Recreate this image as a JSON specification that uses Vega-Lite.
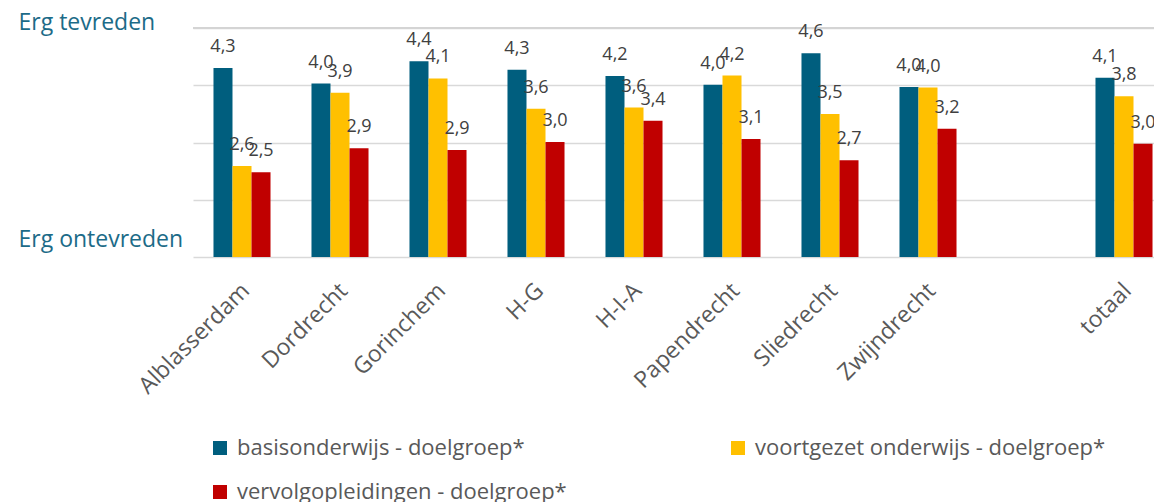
{
  "$schema": "https://vega.github.io/schema/vega-lite/v6.json",
  "autosize": {"type": "none"},
  "width": 961,
  "height": 229,
  "padding": {"left": 193, "top": 28, "right": 0, "bottom": 245},
  "background": "white",
  "config": {
    "locale": {"number": {"decimal": ",", "thousands": ".", "grouping": [3], "currency": ["€", ""]}},
    "view": {"stroke": null},
    "font": "Open Sans"
  },
  "data": {
    "values": [
      {"regio": "Alblasserdam", "groep": "basisonderwijs - doelgroep*", "waarde": 4.30},
      {"regio": "Alblasserdam", "groep": "voortgezet onderwijs - doelgroep*", "waarde": 2.59},
      {"regio": "Alblasserdam", "groep": "vervolgopleidingen - doelgroep*", "waarde": 2.48},
      {"regio": "Dordrecht", "groep": "basisonderwijs - doelgroep*", "waarde": 4.03},
      {"regio": "Dordrecht", "groep": "voortgezet onderwijs - doelgroep*", "waarde": 3.87},
      {"regio": "Dordrecht", "groep": "vervolgopleidingen - doelgroep*", "waarde": 2.90},
      {"regio": "Gorinchem", "groep": "basisonderwijs - doelgroep*", "waarde": 4.42},
      {"regio": "Gorinchem", "groep": "voortgezet onderwijs - doelgroep*", "waarde": 4.12},
      {"regio": "Gorinchem", "groep": "vervolgopleidingen - doelgroep*", "waarde": 2.87},
      {"regio": "H-G", "groep": "basisonderwijs - doelgroep*", "waarde": 4.27},
      {"regio": "H-G", "groep": "voortgezet onderwijs - doelgroep*", "waarde": 3.59},
      {"regio": "H-G", "groep": "vervolgopleidingen - doelgroep*", "waarde": 3.01},
      {"regio": "H-I-A", "groep": "basisonderwijs - doelgroep*", "waarde": 4.16},
      {"regio": "H-I-A", "groep": "voortgezet onderwijs - doelgroep*", "waarde": 3.61},
      {"regio": "H-I-A", "groep": "vervolgopleidingen - doelgroep*", "waarde": 3.38},
      {"regio": "Papendrecht", "groep": "basisonderwijs - doelgroep*", "waarde": 4.01},
      {"regio": "Papendrecht", "groep": "voortgezet onderwijs - doelgroep*", "waarde": 4.17},
      {"regio": "Papendrecht", "groep": "vervolgopleidingen - doelgroep*", "waarde": 3.06},
      {"regio": "Sliedrecht", "groep": "basisonderwijs - doelgroep*", "waarde": 4.56},
      {"regio": "Sliedrecht", "groep": "voortgezet onderwijs - doelgroep*", "waarde": 3.50},
      {"regio": "Sliedrecht", "groep": "vervolgopleidingen - doelgroep*", "waarde": 2.69},
      {"regio": "Zwijndrecht", "groep": "basisonderwijs - doelgroep*", "waarde": 3.97},
      {"regio": "Zwijndrecht", "groep": "voortgezet onderwijs - doelgroep*", "waarde": 3.96},
      {"regio": "Zwijndrecht", "groep": "vervolgopleidingen - doelgroep*", "waarde": 3.24},
      {"regio": "totaal", "groep": "basisonderwijs - doelgroep*", "waarde": 4.13},
      {"regio": "totaal", "groep": "voortgezet onderwijs - doelgroep*", "waarde": 3.81},
      {"regio": "totaal", "groep": "vervolgopleidingen - doelgroep*", "waarde": 2.98}
    ]
  },
  "layer": [
    {
      "mark": {"type": "rule", "color": "#d4d4d4", "strokeWidth": 2},
      "encoding": {
        "y": {"datum": 5, "type": "quantitative"}
      }
    },
    {
      "mark": {"type": "bar"},
      "encoding": {
        "x": {
          "field": "regio",
          "type": "nominal",
          "sort": null,
          "scale": {
            "domain": ["Alblasserdam", "Dordrecht", "Gorinchem", "H-G", "H-I-A", "Papendrecht", "Sliedrecht", "Zwijndrecht", " ", "totaal"],
            "range": [0, 980],
            "paddingInner": 0.418,
            "paddingOuter": 0.209
          },
          "axis": {
            "title": null,
            "domain": false,
            "ticks": false,
            "grid": false,
            "labelAngle": -45,
            "labelFontSize": 23,
            "labelColor": "#595959",
            "labelPadding": 22,
            "labelOffset": -4,
            "labelLimit": 300
          }
        },
        "xOffset": {
          "field": "groep",
          "type": "nominal",
          "sort": null,
          "scale": {
            "domain": ["basisonderwijs - doelgroep*", "voortgezet onderwijs - doelgroep*", "vervolgopleidingen - doelgroep*"],
            "paddingInner": 0,
            "paddingOuter": 0
          }
        },
        "y": {
          "field": "waarde",
          "type": "quantitative",
          "scale": {"domain": [1, 5], "nice": false, "zero": false},
          "axis": {
            "title": null,
            "values": [1, 2, 3, 4, 5],
            "grid": true,
            "gridColor": "#d9d9d9",
            "gridWidth": 1.5,
            "domain": false,
            "ticks": false,
            "labelExpr": "datum.value == 5 ? 'Erg tevreden' : datum.value == 1 ? 'Erg ontevreden' : ''",
            "labelAlign": "left",
            "labelPadding": 175,
            "labelFontSize": 23,
            "labelColor": "#1c6b88",
            "labelBaseline": "alphabetic",
            "labelOffset": {"condition": {"test": "datum.value == 1", "value": -11}, "value": 1},
            "labelLimit": 300,
            "labelBound": false,
            "labelOverlap": false
          }
        },
        "y2": {"datum": 1},
        "color": {
          "field": "groep",
          "type": "nominal",
          "sort": null,
          "scale": {
            "domain": ["basisonderwijs - doelgroep*", "voortgezet onderwijs - doelgroep*", "vervolgopleidingen - doelgroep*"],
            "range": ["#005e7e", "#ffc000", "#c00000"]
          },
          "legend": {
            "title": null,
            "orient": "none",
            "legendX": 16,
            "legendY": 409,
            "direction": "horizontal",
            "values": ["basisonderwijs - doelgroep*", "voortgezet onderwijs - doelgroep*", "vervolgopleidingen - doelgroep*"],
            "columns": 2,
            "columnPadding": 160,
            "rowPadding": 22,
            "symbolType": "square",
            "symbolSize": 196,
            "symbolStrokeWidth": 0,
            "labelFontSize": 22,
            "labelColor": "#595959",
            "labelLimit": 500,
            "labelOffset": 6
          }
        }
      }
    },
    {
      "mark": {"type": "text", "dy": -16, "fontSize": 18, "color": "#404040", "baseline": "alphabetic"},
      "encoding": {
        "x": {"field": "regio", "type": "nominal", "sort": null},
        "xOffset": {"field": "groep", "type": "nominal", "sort": null},
        "y": {"field": "waarde", "type": "quantitative"},
        "text": {"field": "waarde", "type": "quantitative", "format": ".1f"}
      }
    }
  ]
}
